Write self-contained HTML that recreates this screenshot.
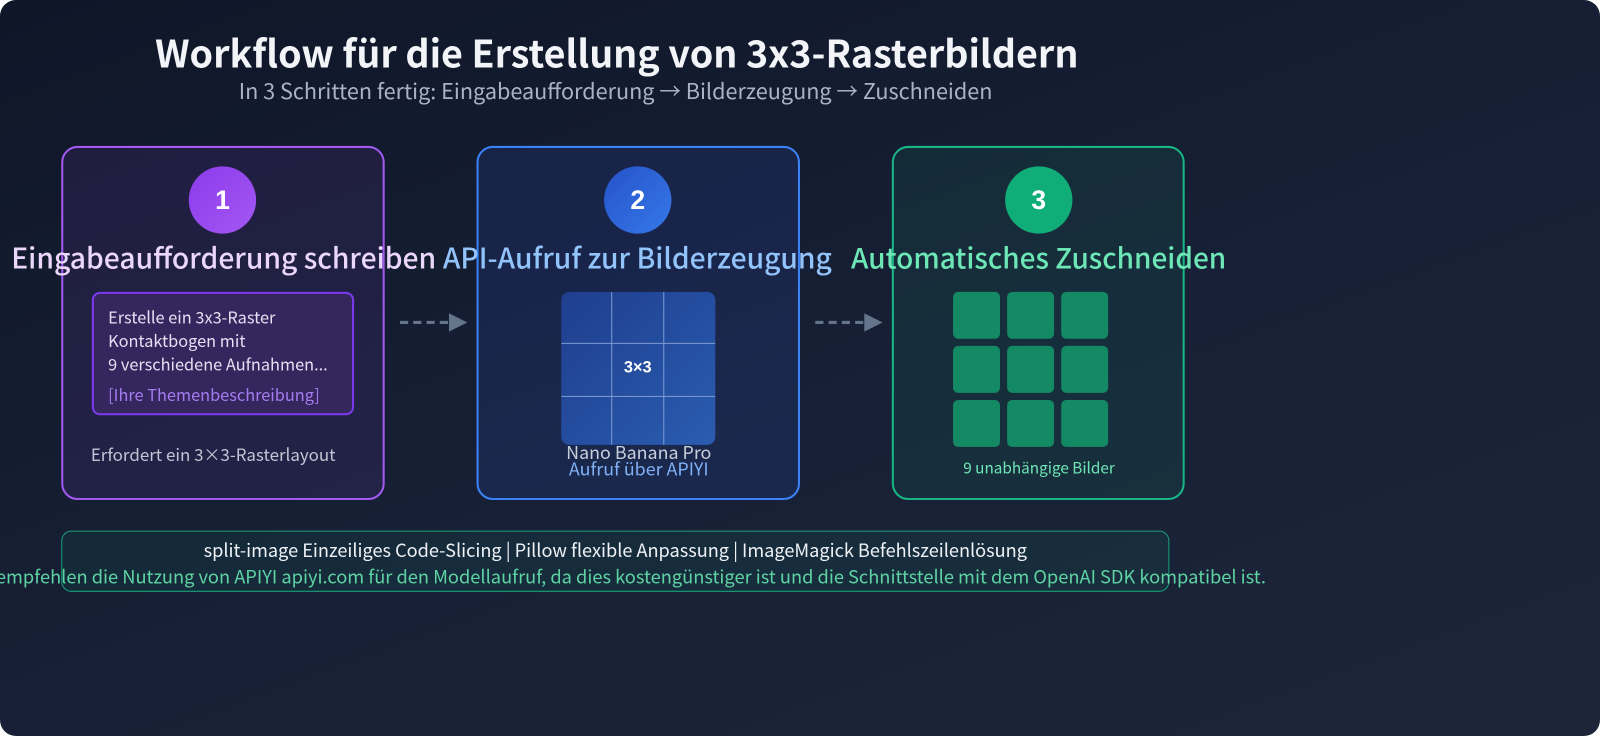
<!DOCTYPE html>
<html><head><meta charset="utf-8"><style>
*{margin:0;padding:0;box-sizing:border-box}
body{width:1600px;height:738px;background:#fff;position:relative;overflow:hidden;font-family:"Liberation Sans","Noto Sans CJK JP",sans-serif}
.bg{position:absolute;left:0;top:0;width:1600px;height:736px;border-radius:16px;background:linear-gradient(160deg,#0f1628 0%,#172036 55%,#1c2638 100%)}
.c{position:absolute;left:0;top:0;width:1568px;height:723px;transform:scale(1.0204);transform-origin:0 0}
.a{position:absolute;white-space:nowrap}
.card{position:absolute;top:143px;width:317px;height:347px;border-radius:16px;border:2px solid}
.num{position:absolute;width:66px;height:66px;border-radius:50%;color:#fff;font-size:26px;font-weight:bold;text-align:center;line-height:66px}
.t{font-size:27.7px;top:231px;font-family:"Noto Sans CJK JP",sans-serif;font-weight:500}
.sq{position:absolute;width:46px;height:46px;border-radius:5px;background:#148a64}
</style></head><body>
<div class="bg"></div>
<div class="c">
<div class="a" style="left:152px;top:23px;font-size:36.9px;font-weight:bold;color:#f2f4f8;font-family:'Noto Sans CJK JP',sans-serif">Workflow für die Erstellung von 3x3-Rasterbildern</div>
<div class="a" style="left:234px;top:73px;font-size:21.2px;color:#aab3c4;font-family:'Noto Sans CJK JP',sans-serif">In 3 Schritten fertig: Eingabeaufforderung → Bilderzeugung → Zuschneiden</div>

<div class="card" style="left:60px;border-color:#a259f0;background:rgba(80,50,140,0.22)"></div>
<div class="card" style="left:467px;border-color:#3b82f6;background:rgba(40,70,160,0.22)"></div>
<div class="card" style="left:874px;width:287px;border-color:#19b585;background:rgba(20,110,90,0.18)"></div>

<div class="num" style="left:185px;top:163px;background:linear-gradient(135deg,#8b3be8,#a457f5)">1</div>
<div class="num" style="left:592px;top:163px;background:linear-gradient(135deg,#2653c7,#3578ea)">2</div>
<div class="num" style="left:985px;top:163px;background:#10ad78">3</div>

<div class="a t" style="left:11px;color:#ead7fb">Eingabeaufforderung schreiben</div>
<div class="a t" style="left:434px;color:#93c3fb">API-Aufruf zur Bilderzeugung</div>
<div class="a t" style="left:834px;color:#6ee7b7;font-size:27.4px">Automatisches Zuschneiden</div>

<div style="position:absolute;left:90px;top:286px;width:257px;height:121px;border:2px solid #7c3aed;border-radius:8px;background:#35265e"></div>
<div class="a" style="left:106px;top:299px;font-size:16px;line-height:23px;color:#e6e0f2;font-family:'Noto Sans CJK JP',sans-serif">Erstelle ein 3x3-Raster<br>Kontaktbogen mit<br>9 verschiedene Aufnahmen...</div>
<div class="a" style="left:106px;top:374px;font-size:16px;color:#a47cf0;font-family:'Noto Sans CJK JP',sans-serif">[Ihre Themenbeschreibung]</div>
<div class="a" style="left:89px;top:433px;font-size:16.6px;color:#c4c4d6;font-family:'Noto Sans CJK JP',sans-serif">Erfordert ein 3×3-Rasterlayout</div>

<div style="position:absolute;left:550px;top:286px;width:151px;height:150px;border-radius:8px;background:linear-gradient(135deg,#1f3e8e,#2a5cb0);overflow:hidden">
<div style="position:absolute;left:49px;top:0;width:1px;height:150px;background:#7d9bd1"></div>
<div style="position:absolute;left:100px;top:0;width:1px;height:150px;background:#7d9bd1"></div>
<div style="position:absolute;left:0;top:50px;width:151px;height:1px;background:#7d9bd1"></div>
<div style="position:absolute;left:0;top:102px;width:151px;height:1px;background:#7d9bd1"></div>
<div style="position:absolute;left:50px;top:66px;width:50px;text-align:center;color:#fff;font-size:16px;font-weight:bold">3×3</div>
</div>
<div class="a" style="left:540px;top:436px;font-size:17.5px;line-height:16px;color:#c8cedb;font-family:'Noto Sans CJK JP',sans-serif;text-align:center;width:172px">Nano Banana Pro<br><span style="color:#7fb0f5">Aufruf über APIYI</span></div>

<div class="sq" style="left:934px;top:286px"></div><div class="sq" style="left:987px;top:286px"></div><div class="sq" style="left:1040px;top:286px"></div>
<div class="sq" style="left:934px;top:339px"></div><div class="sq" style="left:987px;top:339px"></div><div class="sq" style="left:1040px;top:339px"></div>
<div class="sq" style="left:934px;top:392px"></div><div class="sq" style="left:987px;top:392px"></div><div class="sq" style="left:1040px;top:392px"></div>
<div class="a" style="left:944px;top:448px;font-size:15px;color:#6ee7b7;font-family:'Noto Sans CJK JP',sans-serif">9 unabhängige Bilder</div>

<svg style="position:absolute;left:0;top:0" width="1568" height="723">
<line x1="392" y1="316" x2="440" y2="316" stroke="#64748b" stroke-width="3" stroke-dasharray="8,5"/>
<polygon points="440,307 458,316 440,325" fill="#64748b"/>
<line x1="799" y1="316" x2="847" y2="316" stroke="#64748b" stroke-width="3" stroke-dasharray="8,5"/>
<polygon points="847,307 865,316 847,325" fill="#64748b"/>
</svg>

<div style="position:absolute;left:60px;top:520px;width:1086px;height:60px;border:1.5px solid #17a079;border-radius:10px;background:rgba(20,90,80,0.2)"></div>
<div class="a" style="left:0;width:1206px;text-align:center;top:526px;font-size:17.8px;color:#eef2f6;font-family:'Noto Sans CJK JP',sans-serif">split-image Einzeiliges Code-Slicing | Pillow flexible Anpassung | ImageMagick Befehlszeilenlösung</div>
<div class="a" style="left:-4px;top:552px;font-size:17.9px;color:#5ed3a4;font-family:'Noto Sans CJK JP',sans-serif">empfehlen die Nutzung von APIYI apiyi.com für den Modellaufruf, da dies kostengünstiger ist und die Schnittstelle mit dem OpenAI SDK kompatibel ist.</div>
</div>
</body></html>
